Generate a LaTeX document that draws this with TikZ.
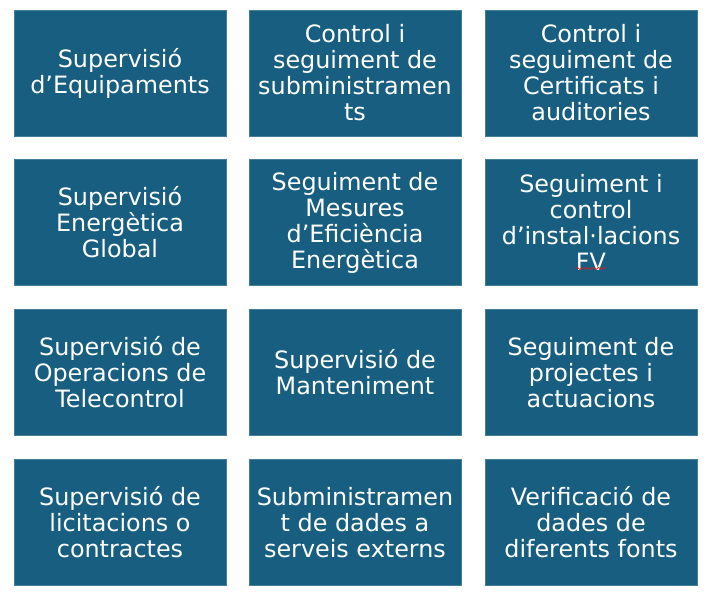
\documentclass[tikz,border=0pt]{standalone}
\usepackage{fontspec}
\setmainfont{DejaVu Sans}
\usepackage{xcolor}
\usetikzlibrary{decorations.pathmorphing}
\definecolor{tilebg}{HTML}{175E80}
\definecolor{spellred}{HTML}{D02020}

\begin{document}
\begin{tikzpicture}[x=0.75pt,y=-0.75pt,
  tile/.style={fill=tilebg,draw=tilebg!80!white,line width=0.5pt,minimum width=159pt,minimum height=94.5pt,
    text=white,align=center,inner sep=0pt,font=\fontsize{17.9}{19.5}\selectfont}]
  \useasboundingbox (0,0) rectangle (709,596);
  \foreach \r/\y in {1/73, 2/222.5, 3/372.5, 4/522.5}
    \foreach \c/\x in {1/120, 2/355, 3/591}
      \coordinate (p\r\c) at (\x,\y);

  \node[tile] (t11) at (p11) {Supervisió\\d’Equipaments};
  \node[tile] (t12) at (p12) {Control i\\seguiment de\\subministramen\\ts};
  \node[tile] (t13) at (p13) {Control i\\seguiment de\\Certificats i\\auditories};

  \node[tile] (t21) at (p21) {Supervisió\\Energètica\\Global};
  \node[tile] (t22) at (p22) {Seguiment de\\Mesures\\d’Eficiència\\Energètica};
  \node[tile] (t23) at (p23) {Seguiment i\\control\\d’instal·lacions\\FV};

  \node[tile] (t31) at (p31) {Supervisió de\\Operacions de\\Telecontrol};
  \node[tile] (t32) at (p32) {Supervisió de\\Manteniment};
  \node[tile] (t33) at (p33) {Seguiment de\\projectes i\\actuacions};

  \node[tile] (t41) at (p41) {Supervisió de\\licitacions o\\contractes};
  \node[tile] (t42) at (p42) {Subministramen\\t de dades a\\serveis externs};
  \node[tile] (t43) at (p43) {Verificació de\\dades de\\diferents fonts};

  % spell-check mark under FV
  \draw[spellred,line width=0.6pt,decorate,decoration={snake,amplitude=0.8pt,segment length=4pt}]
    ([xshift=-11.5pt,yshift=-34.5pt]t23.center) -- ([xshift=11pt,yshift=-34.5pt]t23.center);
\end{tikzpicture}
\end{document}
